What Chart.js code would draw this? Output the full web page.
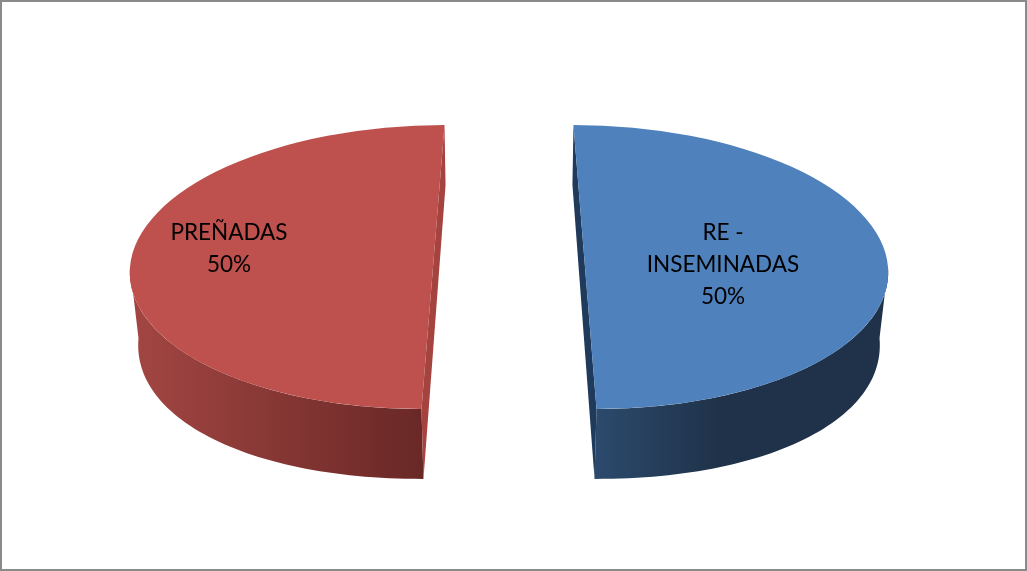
<!DOCTYPE html>
<html>
<head>
<meta charset="utf-8">
<style>
  html, body { margin: 0; padding: 0; background: #fff; }
  canvas { display: block; }
</style>
<script src="https://cdn.jsdelivr.net/npm/chart.js@4/dist/chart.umd.js"></script>
</head>
<body>
<canvas id="chart" width="1027" height="571"></canvas>
<script>
const categories = [['RE -', 'INSEMINADAS'], ['PREÑADAS']];
const values = [50, 50];
const colors = ['#4F81BD', '#BE504D'];

// look of each slice's 3D body, same order as the categories
const wallGradients = [
    [[0.5, '#2D4C70'], [0.72, '#1F3249']],
    [[0, '#A34643'], [0.5, '#672725']]
];
const cutFaceColors = ['#1F3A5B', '#A5433F'];
const shear = [0.038, -0.038];
const labelOffsets = [[138, -2], [-204, -18]];

const TILT = 0.4686;
const EXPLODE = 76;

function sliceGeometry(arc) {
    const {x, y, startAngle, endAngle, outerRadius} = arc.getProps(['x', 'y', 'startAngle', 'endAngle', 'outerRadius'], true);
    const mid = (startAngle + endAngle) / 2;
    return {
        x,
        y,
        cx: x + Math.cos(mid) * EXPLODE,
        cy: y + Math.sin(mid) * EXPLODE,
        r: outerRadius,
        startAngle,
        endAngle
    };
}

const pie3d = {
    id: 'pie3d',
    beforeDraw(chart) {
        const {ctx, width, height} = chart;
        ctx.save();
        ctx.strokeStyle = '#8A8A8A';
        ctx.lineWidth = 2;
        ctx.strokeRect(1, 1, width - 2, height - 2);
        ctx.restore();
    },
    beforeDatasetDraw(chart, args) {
        const {ctx} = chart;
        const meta = args.meta;

        meta.data.forEach((arc, i) => {
            const g = sliceGeometry(arc);
            const s = shear[i];
            const side = Math.cos((g.startAngle + g.endAngle) / 2) > 0 ? -1 : 1;

            const top = a => {
                const px = Math.cos(a) * g.r, py = Math.sin(a) * g.r;
                return [g.cx + px + s * py, g.cy + py * TILT];
            };
            // rim of the underside, a bit squarer than an ellipse
            const bottom = a => {
                const e = 2 / 2.1;
                const c = Math.cos(a), n = Math.sin(a);
                const px = Math.sign(c) * Math.pow(Math.abs(c), e) * g.r;
                const py = Math.sign(n) * Math.pow(Math.abs(n), e) * g.r;
                return [g.cx + side * 1.5 + px * 0.977 + s * py * 0.96, g.cy + 71 + py * 0.465];
            };

            // outer wall, only the part of the rim facing the viewer
            const from = Math.max(g.startAngle, 0);
            const to = Math.min(g.endAngle, Math.PI);
            const steps = 60;
            const grad = ctx.createLinearGradient(g.cx - g.r, 0, g.cx + g.r, 0);
            wallGradients[i].forEach(stop => grad.addColorStop(stop[0], stop[1]));
            ctx.beginPath();
            for (let k = 0; k <= steps; k++) {
                const p = top(from + (to - from) * k / steps);
                ctx.lineTo(p[0], p[1]);
            }
            for (let k = steps; k >= 0; k--) {
                const p = bottom(from + (to - from) * k / steps);
                ctx.lineTo(p[0], p[1]);
            }
            ctx.closePath();
            ctx.fillStyle = grad;
            ctx.fill();

            // cut face, the thin sliver along the straight edge
            const back = -Math.PI / 2, front = Math.PI / 2;
            const a0 = top(back), a1 = top(front);
            const b0 = bottom(back), b1 = bottom(front);
            ctx.beginPath();
            ctx.moveTo(a0[0], a0[1]);
            ctx.lineTo(b0[0], g.cy - 82);
            ctx.lineTo(b1[0], b1[1]);
            ctx.lineTo(a1[0], a1[1]);
            ctx.closePath();
            ctx.fillStyle = cutFaceColors[i];
            ctx.fill();

            // top face is the library's arc, moved out and squashed
            ctx.save();
            ctx.translate(g.cx, g.cy);
            ctx.transform(1, 0, s, TILT, 0, 0);
            ctx.translate(-g.x, -g.y);
            arc.draw(ctx);
            ctx.restore();
        });
        return false;
    },
    afterDatasetsDraw(chart) {
        const {ctx} = chart;
        const meta = chart.getDatasetMeta(0);
        const total = values.reduce((a, b) => a + b, 0);
        ctx.save();
        ctx.fillStyle = '#000';
        ctx.font = '22.5px Lato, Carlito, sans-serif';
        ctx.textAlign = 'center';
        ctx.textBaseline = 'middle';
        meta.data.forEach((arc, i) => {
            const g = sliceGeometry(arc);
            const lines = categories[i].concat(Math.round(values[i] / total * 100) + '%');
            const x = g.cx + labelOffsets[i][0];
            const y = g.cy + labelOffsets[i][1];
            lines.forEach((line, n) => {
                ctx.fillText(line, x, y + (n - (lines.length - 1) / 2) * 32);
            });
        });
        ctx.restore();
    }
};

new Chart(document.getElementById('chart'), {
    type: 'pie',
    data: {
        labels: categories,
        datasets: [{
            data: values,
            backgroundColor: colors,
            borderWidth: 0,
            hoverOffset: 0,
            radius: 303
        }]
    },
    options: {
        responsive: false,
        animation: false,
        events: [],
        layout: {padding: {right: 9, bottom: 37}},
        plugins: {
            legend: {display: false},
            tooltip: {enabled: false}
        }
    },
    plugins: [pie3d]
});
</script>
</body>
</html>
